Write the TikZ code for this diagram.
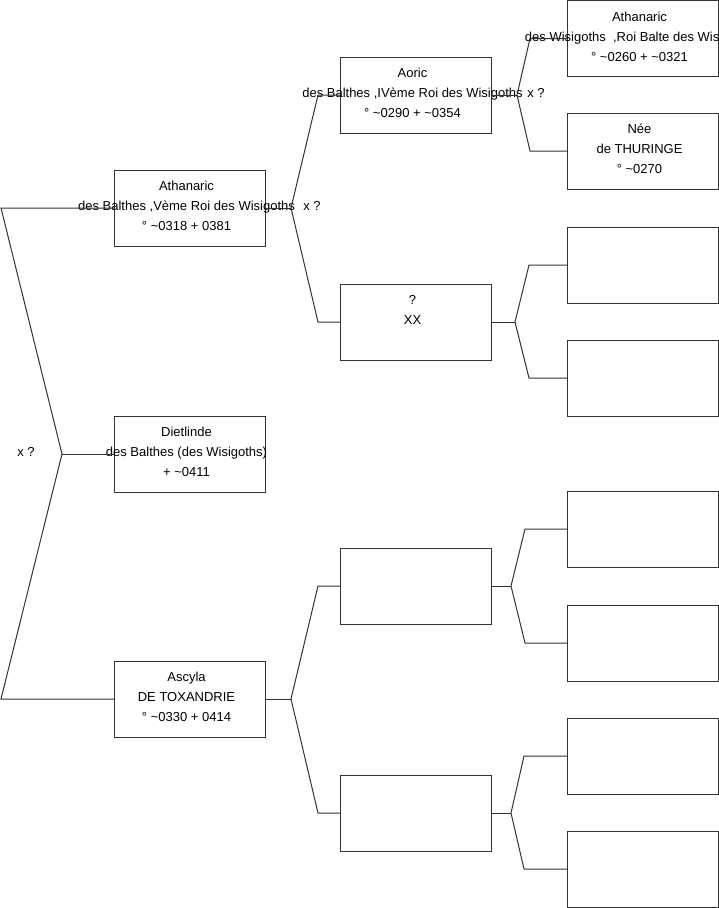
\documentclass[tikz,border=0pt]{standalone}
\usepackage{fontspec}
\setmainfont{Liberation Sans}
\begin{document}
\begin{tikzpicture}[x=1pt,y=-1pt,
  line/.style={draw=black!80, line width=1pt},
  person/.style={draw=black!80, line width=1pt, minimum width=151pt, minimum height=76pt, inner sep=0pt, outer sep=0pt},
  txt/.style={font=\fontsize{13}{20}\selectfont, align=center, inner sep=0pt, text=black, xshift=-3pt, yshift=2pt},
  lbl/.style={font=\fontsize{13}{16}\selectfont, inner sep=0pt, text=black}]
\useasboundingbox (0,0) rectangle (719,908);
% column 1
\node[person] (A1) at (189.5,208) {};
\node[person] (D)  at (189.5,454) {};
\node[person] (As) at (189.5,699) {};
% column 2
\node[person] (Ao) at (415.5,95) {};
\node[person] (Q)  at (415.5,322) {};
\node[person] (E1) at (415.5,586) {};
\node[person] (E2) at (415.5,813) {};
% column 3
\node[person] (R1) at (642.5,38.5) {};
\node[person] (R2) at (642.5,151) {};
\node[person] (R3) at (642.5,265) {};
\node[person] (R4) at (642.5,378) {};
\node[person] (R5) at (642.5,529) {};
\node[person] (R6) at (642.5,643) {};
\node[person] (R7) at (642.5,756) {};
\node[person] (R8) at (642.5,869) {};
% texts
\node[txt] (tA1) at (A1) {Athanaric\\des Balthes ,Vème Roi des Wisigoths\\° \textasciitilde0318 + 0381};
\node[txt] (tD) at (D) {Dietlinde\\des Balthes (des Wisigoths)\\+ \textasciitilde0411};
\node[txt] (tAs) at (As) {Ascyla\\DE TOXANDRIE\\° \textasciitilde0330 + 0414};
\node[txt] (tAo) at (Ao) {Aoric\\des Balthes ,IVème Roi des Wisigoths\\° \textasciitilde0290 + \textasciitilde0354};
\node[txt] (tQ) at (Q) {?\\XX\\\mbox{}};
\node[txt] (tR1) at (R1) {Athanaric\\des Wisigoths\ \ ,Roi Balte des Wisigoths\\° \textasciitilde0260 + \textasciitilde0321};
\node[txt] (tR2) at (R2) {Née\\de THURINGE\\° \textasciitilde0270};
% union labels
\node[lbl] (x0) at (26,452) {x ?};
\node[lbl] (x1) at (312,206) {x ?};
\node[lbl] (x2) at (536,93) {x ?};
% left fork
\coordinate (fL) at (62,454);
\draw[line] (A1.west) -- (1,208) -- (fL) -- (1,699) -- (As.west);
\draw[line] (fL) -- (D.west);
% fork of A1
\coordinate (f1) at (291,208);
\draw[line] (A1.east) -- (f1);
\draw[line] (Ao.west) -- ([xshift=-22pt]Ao.west) -- (f1) -- ([xshift=-22pt]Q.west) -- (Q.west);
% fork of As
\coordinate (f2) at (291,699);
\draw[line] (As.east) -- (f2);
\draw[line] (E1.west) -- ([xshift=-22pt]E1.west) -- (f2) -- ([xshift=-22pt]E2.west) -- (E2.west);
% fork of Ao
\coordinate (f3) at (517,95);
\draw[line] (Ao.east) -- (f3);
\draw[line] (R1.west) -- ([xshift=-37pt]R1.west) -- (f3) -- ([xshift=-37pt]R2.west) -- (R2.west);
% fork of Q
\coordinate (f4) at (515,322);
\draw[line] (Q.east) -- (f4);
\draw[line] (R3.west) -- ([xshift=-38pt]R3.west) -- (f4) -- ([xshift=-38pt]R4.west) -- (R4.west);
% fork of E1
\coordinate (f5) at (511,586);
\draw[line] (E1.east) -- (f5);
\draw[line] (R5.west) -- ([xshift=-42pt]R5.west) -- (f5) -- ([xshift=-42pt]R6.west) -- (R6.west);
% fork of E2
\coordinate (f6) at (511,813);
\draw[line] (E2.east) -- (f6);
\draw[line] (R7.west) -- ([xshift=-43pt]R7.west) -- (f6) -- ([xshift=-43pt]R8.west) -- (R8.west);
\end{tikzpicture}
\end{document}
